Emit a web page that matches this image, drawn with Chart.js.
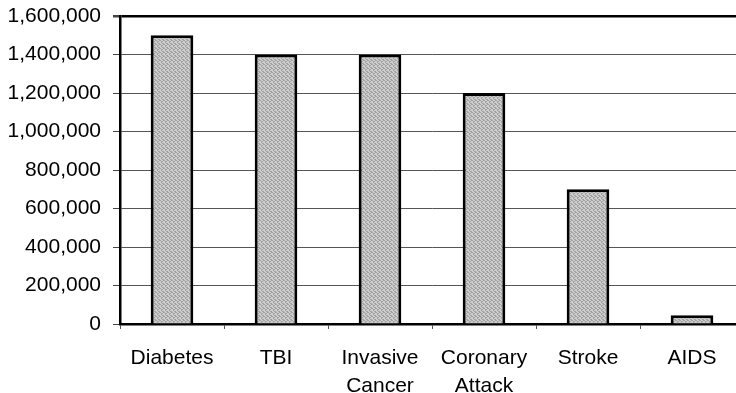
<!DOCTYPE html>
<html>
<head>
<meta charset="utf-8">
<script src="https://cdn.jsdelivr.net/npm/chart.js@4.4.1/dist/chart.umd.min.js"></script>
<style>
  html, body { margin: 0; padding: 0; background: #fff; overflow: hidden; }
  #wrap { width: 736px; height: 393px; overflow: hidden; }
  #box { width: 746px; height: 393px; }
</style>
</head>
<body>
<div id="wrap"><div id="box"><canvas id="chart"></canvas></div></div>
<script>
// chart values
const categories = ['Diabetes', 'TBI', ['Invasive', 'Cancer'], ['Coronary', 'Attack'], 'Stroke', 'AIDS'];
const cases = [1500000, 1400000, 1400000, 1200000, 700000, 45000];
const yTicks = [0, 200000, 400000, 600000, 800000, 1000000, 1200000, 1400000, 1600000];

// stippled gray fill like the printed original
function stipple() {
  const c = document.createElement('canvas');
  c.width = 4; c.height = 4;
  const g = c.getContext('2d');
  g.fillStyle = '#cdcdcd';
  g.fillRect(0, 0, 4, 4);
  g.fillStyle = '#a2a2a2';
  [[0,0],[2,1],[1,2],[3,3],[3,0],[1,1],[2,3]].forEach(p => g.fillRect(p[0], p[1], 1, 1));
  return g.createPattern(c, 'repeat');
}

const font = { family: '"Liberation Sans", Arial, sans-serif', size: 21, lineHeight: 1.33 };

const ctx = document.getElementById('chart').getContext('2d');
const chart = new Chart(ctx, {
  type: 'bar',
  data: {
    labels: categories,
    datasets: [{
      data: cases,
      backgroundColor: stipple(),
      borderColor: '#000',
      borderWidth: 3,
      barPercentage: 0.41,
      categoryPercentage: 1
    }]
  },
  options: {
    responsive: true,
    maintainAspectRatio: false,
    animation: false,
    layout: { padding: { top: 16, right: 2, left: 0, bottom: 0 } },
    plugins: { legend: { display: false }, tooltip: { enabled: false } },
    scales: {
      x: {
        grid: { drawOnChartArea: false, offset: true, tickLength: 5, tickColor: '#555' },
        border: { color: '#000', width: 2.5 },
        ticks: { color: '#000', font: font, padding: 15, maxRotation: 0, autoSkip: false },
        afterFit: s => { s.height = 69; s.paddingLeft = 0; s.paddingRight = 0; }
      },
      y: {
        min: 0,
        max: 1600000,
        afterBuildTicks: s => { s.ticks = yTicks.map(v => ({ value: v })); },
        grid: {
          color: c => c.tick && c.tick.value === 1600000 ? '#000' : '#555',
          lineWidth: c => c.tick && c.tick.value === 1600000 ? 2.5 : 1,
          tickLength: 7,
          tickColor: '#444'
        },
        border: { color: '#000', width: 2.5 },
        ticks: {
          color: '#000',
          font: font,
          padding: 12,
          callback: v => v.toLocaleString('en-US')
        },
        afterFit: s => { s.width = 120; s.paddingTop = 0; s.paddingBottom = 0; }
      }
    }
  }
});
</script>
</body>
</html>
